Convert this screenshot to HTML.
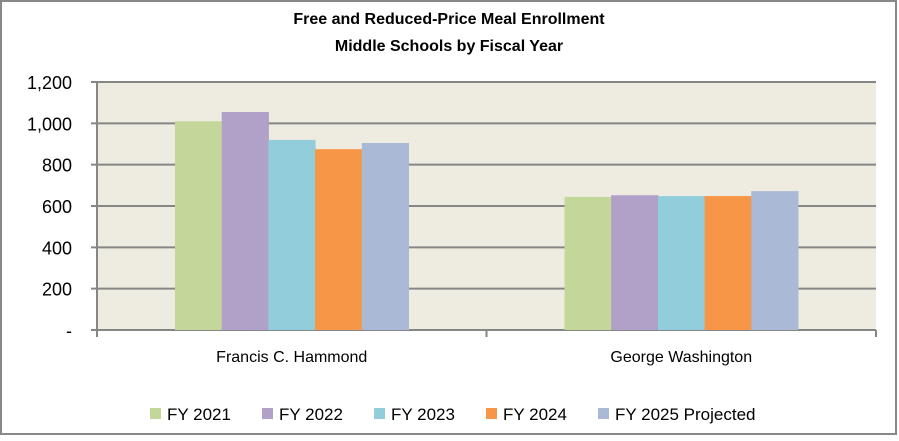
<!DOCTYPE html>
<html><head><meta charset="utf-8"><style>
body{margin:0;background:#fff;}
svg text{font-family:"Liberation Sans",sans-serif;}
</style></head><body>
<svg width="899" height="436">
<rect x="1" y="1" width="895" height="433" fill="#fff" stroke="#888" stroke-width="2"/>
<text x="449" y="24" text-anchor="middle" font-size="16" font-weight="bold">Free and Reduced-Price Meal Enrollment</text>
<text x="449" y="51" text-anchor="middle" font-size="16" font-weight="bold">Middle Schools by Fiscal Year</text>
<g id="plot"></g>
</svg>
<script>
const categories=["Francis C. Hammond","George Washington"];
const seriesNames=["FY 2021","FY 2022","FY 2023","FY 2024","FY 2025 Projected"];
const fy2021=[1010,644];
const fy2022=[1055,652];
const fy2023=[920,648];
const fy2024=[875,648];
const fy2025=[905,672];
const yTicks=[0,200,400,600,800,1000,1200];
const yTickLabels=["-","200","400","600","800","1,000","1,200"];
const colors=["#c4d79b","#b1a0c7","#92cddc","#f79646","#a9b9d6"];
const series=[fy2021,fy2022,fy2023,fy2024,fy2025];
const NS="http://www.w3.org/2000/svg";
const g=document.getElementById('plot');
const L=97,R=876,T=82,B=330,yMax=1200;
const y=v=>B-(v/yMax)*(B-T);
const catW=(R-L)/categories.length;
const barW=46.7;
function mk(t,a){const e=document.createElementNS(NS,t);for(const k in a)e.setAttribute(k,a[k]);g.appendChild(e);return e;}
let bg=mk('rect',{x:L,y:T,width:R-L,height:B-T,fill:"#eeece1"});


yTicks.forEach((t,i)=>{
  let ln=mk('line',{x1:L-6,x2:R,y1:y(t),y2:y(t),stroke:"#868686","stroke-width":2});
  
  
  let tx=mk('text',{x:72,y:y(t)+7,"text-anchor":"end","font-size":18,fill:"#000"});
  tx.textContent=yTickLabels[i];
  
  
});
let ax=mk('line',{x1:L,x2:L,y1:T,y2:B+6,stroke:"#868686","stroke-width":2});


for(let i=0;i<=categories.length;i++){
  let tk=mk('line',{x1:L+i*catW,x2:L+i*catW,y1:B,y2:B+7,stroke:"#868686","stroke-width":2});
  
  
}
categories.forEach((c,ci)=>{
  const cx=L+catW*(ci+0.5);
  const start=cx-barW*series.length/2;
  series.forEach((s,si)=>{
    let r=mk('rect',{x:start+si*barW,y:y(s[ci]),width:barW+0.5,height:B-y(s[ci]),fill:colors[si]});
    
    
  });
  let tx=mk('text',{x:cx,y:362,"text-anchor":"middle","font-size":16});
  tx.textContent=c;
  
  
});
const legX=[150,262,374,486,598];
seriesNames.forEach((n,i)=>{
  let sq=mk('rect',{x:legX[i],y:408,width:11,height:11,fill:colors[i]});
  
  
  let tx=mk('text',{x:legX[i]+17,y:420,"font-size":17});
  tx.textContent=n;
  
  
});
</script>
</body></html>
